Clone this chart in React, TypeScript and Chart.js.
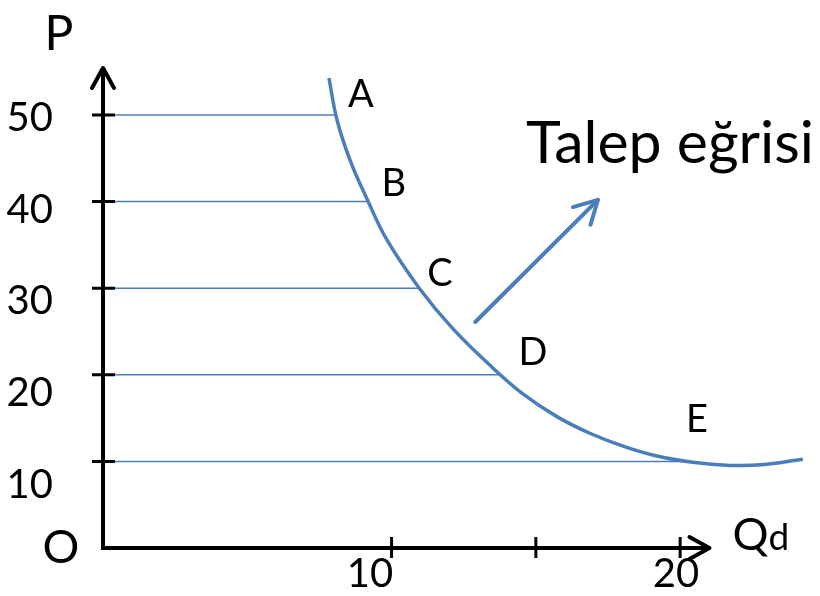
import { useEffect, useRef } from 'react';
import { Chart, registerables } from 'chart.js';

Chart.register(...registerables);

// Demand curve (Q, P)
const curveQ = [7.83, 8.11, 8.56, 9.15, 9.84, 10.98, 12.13, 13.51, 14.55, 15.73, 16.87, 18.02, 19.19, 20.44, 21.73, 22.8, 24.25];
const curveP = [54.27, 49.42, 44.8, 40.3, 35.57, 29.91, 25.3, 20.79, 17.8, 15.17, 13.25, 11.76, 10.62, 9.9, 9.54, 9.6, 10.26];

// Points A–E on the curve (guide lines go from the P axis to these points)
const pointNames = ['A', 'B', 'C', 'D', 'E'];
const pointP = [50, 40, 30, 20, 10];
const pointQ = [8.08, 9.19, 10.96, 13.78, 20.27];

// Tick values and labels
const yTicks = [10, 20, 30, 40, 50];
const xTicks = [10, 15, 20];
const xLabelTicks = [10, 20];

// "Talep eğrisi" pointer arrow
const arrowQ = [12.9, 17.15];
const arrowP = [26.1, 40.2];

const FONT = 'Lato';
const BLUE = '#4a7ebb';

// letter positions next to A–E
const letterQ = [8.94, 10.08, 11.68, 14.9, 20.58];
const letterP = [52.54, 42.26, 31.87, 22.75, 15.01];

const drawPlugin = {
  id: 'econDiagram',
  afterDatasetsDraw(chart: any) {
    const { ctx, scales } = chart;
    const x = scales.x;
    const y = scales.y;
    const x0 = x.getPixelForValue(0);
    const y0 = y.getPixelForValue(0);
    const yTop = y.getPixelForValue(y.max);
    const xEnd = x.getPixelForValue(21.05);
    ctx.save();
    ctx.strokeStyle = '#000';
    ctx.fillStyle = '#000';
    ctx.lineCap = 'butt';
    ctx.lineJoin = 'round';

    // axes
    ctx.lineWidth = 4;
    ctx.beginPath();
    ctx.moveTo(x0, y0 + 2);
    ctx.lineTo(x0, yTop + 2);
    ctx.moveTo(x0 - 2, y0);
    ctx.lineTo(xEnd - 2, y0);
    ctx.stroke();

    // arrow heads
    ctx.lineCap = 'round';
    ctx.beginPath();
    ctx.moveTo(x0 - 11, yTop + 21);
    ctx.lineTo(x0, yTop + 1);
    ctx.lineTo(x0 + 11, yTop + 21);
    ctx.moveTo(xEnd - 21, y0 - 11);
    ctx.lineTo(xEnd - 1, y0);
    ctx.lineTo(xEnd - 21, y0 + 11);
    ctx.stroke();

    // ticks crossing the axes
    ctx.lineCap = 'butt';
    ctx.lineWidth = 3;
    ctx.beginPath();
    yTicks.forEach((v) => {
      const py = y.getPixelForValue(v);
      ctx.moveTo(x0 - 11, py);
      ctx.lineTo(x0 + 12, py);
    });
    xTicks.forEach((v) => {
      const px = x.getPixelForValue(v);
      ctx.moveTo(px, y0 - 11);
      ctx.lineTo(px, y0 + 10);
    });
    ctx.stroke();

    // pointer arrow head
    const meta = chart.getDatasetMeta(chart.data.datasets.length - 1);
    const p1 = meta.data[0];
    const p2 = meta.data[1];
    const ang = Math.atan2(p2.y - p1.y, p2.x - p1.x);
    const len = 26;
    ctx.strokeStyle = BLUE;
    ctx.lineWidth = 4;
    ctx.lineCap = 'round';
    ctx.beginPath();
    ctx.moveTo(p2.x - len * Math.cos(ang - 0.5), p2.y - len * Math.sin(ang - 0.5));
    ctx.lineTo(p2.x, p2.y);
    ctx.lineTo(p2.x - len * Math.cos(ang + 0.5), p2.y - len * Math.sin(ang + 0.5));
    ctx.stroke();

    // texts
    ctx.fillStyle = '#000';
    ctx.textBaseline = 'alphabetic';
    ctx.textAlign = 'center';
    ctx.font = `48px ${FONT}`;
    ctx.fillText('P', x0 - 44, yTop - 17);
    ctx.font = `46px ${FONT}`;
    ctx.fillText('O', x0 - 42, y0 + 15);

    ctx.textAlign = 'left';
    ctx.font = `45px ${FONT}`;
    ctx.fillText('Q', xEnd + 22, y0 + 2);
    const qw = ctx.measureText('Q').width;
    ctx.font = `37px ${FONT}`;
    ctx.fillText('d', xEnd + 22 + qw, y0 + 2);

    ctx.font = `59px ${FONT}`;
    ctx.fillText('Talep eğrisi', x.getPixelForValue(14.66), y.getPixelForValue(44.46));

    ctx.textAlign = 'center';
    ctx.font = `38px ${FONT}`;
    pointNames.forEach((n, i) => {
      const px = x.getPixelForValue(letterQ[i]);
      const py = y.getPixelForValue(letterP[i]);
      ctx.fillText(n, px, py + 13.6);
    });
    ctx.restore();
  },
};

export default function App() {
  const ref = useRef<HTMLCanvasElement | null>(null);
  useEffect(() => {
    if (!ref.current) return;
    const guideSets = pointP.map((p, i) => ({
      data: [
        { x: 0, y: p },
        { x: pointQ[i], y: p },
      ],
      showLine: true,
      borderColor: BLUE,
      borderWidth: 1.5,
      pointRadius: 0,
    }));
    const chart = new Chart(ref.current, {
      type: 'scatter',
      data: {
        datasets: [
          ...guideSets,
          {
            data: curveQ.map((q, i) => ({ x: q, y: curveP[i] })),
            showLine: true,
            borderColor: BLUE,
            borderWidth: 3.5,
            pointRadius: 0,
            tension: 0.4,
          },
          {
            data: arrowQ.map((q, i) => ({ x: q, y: arrowP[i] })),
            showLine: true,
            borderColor: BLUE,
            borderWidth: 4,
            pointRadius: 0,
            borderCapStyle: 'round',
          },
        ] as any,
      },
      options: {
        animation: false,
        responsive: true,
        maintainAspectRatio: false,
        layout: { padding: { top: 67, right: 10, left: 0, bottom: 0 } },
        plugins: { legend: { display: false }, tooltip: { enabled: false } },
        scales: {
          x: { type: 'linear', min: 0, max: 24.5, display: false },
          y: { type: 'linear', min: 0, max: 55.54, display: false },
          xl: {
            type: 'linear',
            position: 'bottom',
            min: 1.275,
            max: 24.379,
            grid: { display: false, drawTicks: false },
            border: { display: false },
            afterFit: (s: any) => {
              s.height = 48;
              s.paddingLeft = 0;
              s.paddingRight = 0;
              s.paddingTop = 0;
              s.paddingBottom = 0;
            },
            afterBuildTicks: (s: any) => { s.ticks = xLabelTicks.map((v) => ({ value: v })); },
            ticks: { font: { family: FONT, size: 40 }, color: '#000', padding: 2, autoSkip: false, maxRotation: 0 },
          },
          yl: {
            type: 'linear',
            position: 'left',
            min: 3.133,
            max: 55.559,
            grid: { display: false, drawTicks: false },
            border: { display: false },
            afterFit: (s: any) => {
              s.width = 103;
              s.paddingLeft = 0;
              s.paddingRight = 0;
              s.paddingTop = 0;
              s.paddingBottom = 0;
            },
            afterBuildTicks: (s: any) => { s.ticks = yTicks.map((v) => ({ value: v })); },
            ticks: { font: { family: FONT, size: 40 }, color: '#000', padding: 50, autoSkip: false },
          },
        } as any,
      },
      plugins: [drawPlugin],
    });
    return () => chart.destroy();
  }, []);
  return (
    <div style={{ position: 'absolute', left: 0, top: 0, width: 820, height: 596, background: '#fff' }}>
      <canvas ref={ref} />
    </div>
  );
}
